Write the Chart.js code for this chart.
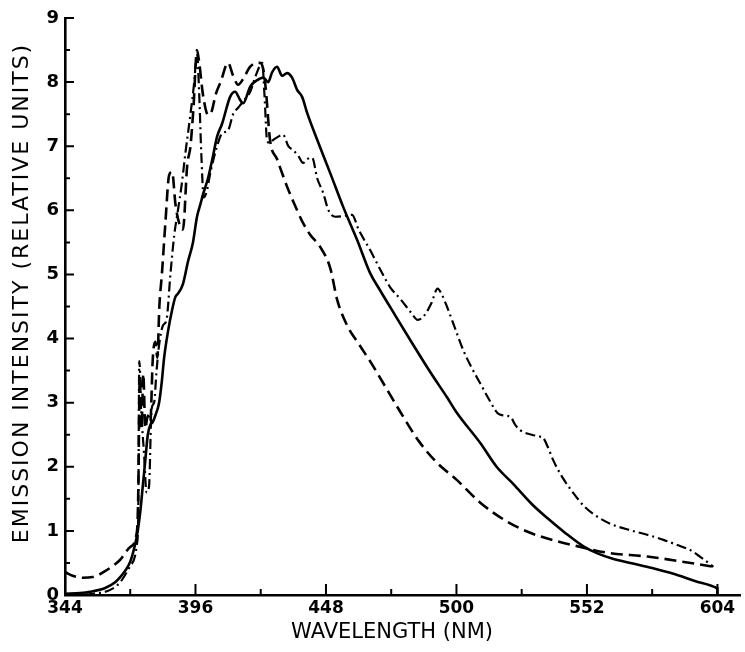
<!DOCTYPE html>
<html>
<head>
<meta charset="utf-8">
<script src="https://cdn.jsdelivr.net/npm/chart.js@4.4.0/dist/chart.umd.min.js"></script>
<style>
  html, body { margin: 0; padding: 0; background: #fff; }
  canvas { display: block; }
</style>
</head>
<body>
<canvas id="spectrum" width="745" height="652"></canvas>
<script>
// wavelength ticks (nm) and intensity ticks
const xTicks = [344, 396, 448, 500, 552, 604];
const xMinorTicks = [370, 422, 474, 526, 578];
const yTicks = [0, 1, 2, 3, 4, 5, 6, 7, 8, 9];
const yMinorTicks = [0.5, 1.5, 2.5, 3.5, 4.5, 5.5, 6.5, 7.5, 8.5];
const xTitle = 'WAVELENGTH (NM)';
const yTitle = 'EMISSION INTENSITY (RELATIVE UNITS)';

// solid curve
const solidNm = [344, 350, 354, 360, 364, 366, 368, 370, 372, 373, 374, 375, 376, 377, 378, 379, 380,
  381.5, 382.5, 383.5, 385, 386.7, 388, 389, 391, 393, 395, 396.6, 398, 399, 401, 403, 404.6, 406.6,
  409.8, 411.8, 413.8, 415, 417.8, 420.6, 423, 425, 426.5, 428.5, 430.5, 432.5, 434.5, 436.5, 438.5,
  440.5, 444.5, 449.7, 454.9, 460.4, 465.6, 469.6, 475, 482.8, 490, 496.3, 500, 509.5, 516, 522.7,
  530, 536.2, 543, 550.6, 556.2, 562, 569.3, 578, 586.5, 595, 603.2, 604, 604];
const solidVal = [0.02, 0.03, 0.05, 0.11, 0.2, 0.28, 0.38, 0.52, 0.8, 1.0, 1.3, 1.7, 2.1, 2.5, 2.65, 2.7, 2.8,
  3.0, 3.3, 3.7, 4.1, 4.45, 4.65, 4.7, 4.85, 5.2, 5.5, 5.9, 6.1, 6.25, 6.5, 6.85, 7.15, 7.35,
  7.77, 7.85, 7.72, 7.67, 7.93, 8.03, 8.07, 8.0, 8.15, 8.24, 8.1, 8.14, 8.07, 7.88, 7.77,
  7.52, 7.1, 6.58, 6.05, 5.54, 5.02, 4.75, 4.4, 3.9, 3.45, 3.08, 2.85, 2.37, 2.0, 1.73,
  1.42, 1.2, 0.98, 0.76, 0.65, 0.57, 0.5, 0.42, 0.33, 0.22, 0.12, 0.1, 0];

// dashed curve
const dashedNm = [344, 347, 351, 355, 360.7, 366, 370, 372.7, 373.2, 373.8, 374.5, 375.2, 376, 377, 378,
  379, 380, 380.8, 381.6, 382.6, 384, 385.5, 386.7, 388, 389.5, 391, 392.7, 394, 395.2, 396.6, 397.5,
  399, 401, 402.5, 404, 406, 409, 411, 413, 415, 417.8, 420.6, 421.8, 423, 424, 425.7, 428.5, 432.5,
  436.5, 438.9, 441.7, 445.7, 449.7, 452.5, 456.5, 461, 466, 472.4, 478.8, 485, 492.3, 500, 509.5,
  520, 529.4, 540, 549.4, 560, 576.1, 590, 602.4];
const dashedVal = [0.36, 0.3, 0.27, 0.28, 0.39, 0.55, 0.75, 1.0, 1.6, 3.4, 2.6, 3.45, 2.6, 2.8, 2.7,
  3.7, 3.95, 3.7, 4.5, 5.0, 5.8, 6.55, 6.6, 6.1, 5.8, 5.7, 6.7, 7.0, 7.6, 8.5, 8.3,
  7.8, 7.49, 7.55, 7.8, 8.0, 8.3, 8.1, 7.96, 8.05, 8.24, 8.3, 8.3, 8.2, 7.9, 7.1, 6.8, 6.37,
  6.0, 5.8, 5.62, 5.43, 5.1, 4.6, 4.2, 3.92, 3.62, 3.2, 2.78, 2.4, 2.06, 1.8, 1.44,
  1.15, 0.97, 0.84, 0.75, 0.66, 0.6, 0.52, 0.44];

// dash-dot curve
const dashDotNm = [344, 355, 362, 366, 370, 372.7, 373.2, 373.6, 374.5, 375.5, 376.5, 377.5, 378.5, 379.5,
  380.5, 381.5, 383, 384.5, 386, 387.5, 389, 390.5, 392, 394, 395.5, 396.6, 397.5, 398.3, 399.3, 400.5,
  402, 404.6, 406.6, 409, 411, 413, 415, 417.8, 420, 422.6, 423.5, 424.5, 425.5, 427, 429, 430.9, 433,
  434.9, 437, 438.9, 440.5, 442.5, 444.5, 446.9, 449, 451.7, 455, 458.4, 461, 465.6, 470, 473.6, 478,
  482, 484.6, 487, 490, 492.5, 494, 496.3, 500, 502.7, 506, 509.5, 513, 516.3, 519, 521.5, 523.5,
  525.4, 530, 533.4, 534.6, 536.5, 538.6, 542, 546.6, 551, 556.2, 562, 569.3, 576, 582.5, 588, 593.2,
  597, 602.4];
const dashDotVal = [0.0, 0.02, 0.08, 0.2, 0.45, 0.8, 1.3, 3.65, 2.8, 2.2, 1.6, 1.7, 2.9, 3.0,
  3.5, 3.9, 4.2, 4.3, 5.0, 5.6, 6.0, 6.4, 6.9, 7.5, 8.0, 8.45, 7.8, 6.9, 6.2, 6.3,
  6.6, 7.0, 7.2, 7.25, 7.5, 7.6, 7.7, 7.85, 8.1, 8.3, 7.8, 7.1, 7.05, 7.1, 7.15, 7.18, 7.0,
  6.94, 6.85, 6.74, 6.8, 6.82, 6.5, 6.27, 6.0, 5.9, 5.91, 5.93, 5.7, 5.38, 5.05, 4.8, 4.6,
  4.4, 4.29, 4.35, 4.55, 4.78, 4.7, 4.49, 4.1, 3.82, 3.55, 3.3, 3.05, 2.84, 2.8, 2.78, 2.65,
  2.57, 2.5, 2.47, 2.45, 2.3, 2.1, 1.85, 1.59, 1.38, 1.22, 1.1, 1.01, 0.94, 0.86, 0.78, 0.70,
  0.6, 0.44];

function pts(xs, ys) {
    return xs.map(function (x, i) { return { x: x, y: ys[i] }; });
}

// inward tick marks and spaced-out axis titles, like the original plot
const axisDecor = {
    id: 'axisDecor',
    afterDraw(chart) {
        const ctx = chart.ctx;
        const xs = chart.scales.x;
        const ys = chart.scales.y;
        const area = chart.chartArea;
        ctx.save();
        ctx.strokeStyle = '#000';
        ctx.lineWidth = 2;
        ctx.beginPath();
        xTicks.forEach(function (v) {
            let p = xs.getPixelForValue(v);
            ctx.moveTo(p, area.bottom);
            ctx.lineTo(p, area.bottom - 11);
        });
        xMinorTicks.forEach(function (v) {
            let p = xs.getPixelForValue(v);
            ctx.moveTo(p, area.bottom);
            ctx.lineTo(p, area.bottom - 6);
        });
        yTicks.forEach(function (v) {
            let p = ys.getPixelForValue(v);
            ctx.moveTo(area.left, p);
            ctx.lineTo(area.left + 9, p);
        });
        yMinorTicks.forEach(function (v) {
            let p = ys.getPixelForValue(v);
            ctx.moveTo(area.left, p);
            ctx.lineTo(area.left + 5, p);
        });
        ctx.stroke();

        ctx.fillStyle = '#000';
        ctx.textAlign = 'center';
        ctx.textBaseline = 'middle';
        ctx.font = '21px "DejaVu Sans"';
        ctx.fillText(xTitle, 392, 633);

        ctx.translate(22, 293);
        ctx.rotate(-Math.PI / 2);
        ctx.font = '22px "DejaVu Sans"';
        ctx.letterSpacing = '2px';
        ctx.fillText(yTitle, 0, 0);
        ctx.restore();
    }
};

const tickFont = { family: 'DejaVu Sans', size: 17, weight: 'bold' };

new Chart(document.getElementById('spectrum').getContext('2d'), {
    type: 'line',
    data: {
        datasets: [{
            label: 'solid',
            data: pts(solidNm, solidVal),
            borderColor: '#000',
            borderWidth: 2.6,
            pointRadius: 0,
            cubicInterpolationMode: 'monotone'
        }, {
            label: 'dashed',
            data: pts(dashedNm, dashedVal),
            borderColor: '#000',
            borderWidth: 2.6,
            borderDash: [12, 6],
            pointRadius: 0,
            cubicInterpolationMode: 'monotone'
        }, {
            label: 'dash-dot',
            data: pts(dashDotNm, dashDotVal),
            borderColor: '#000',
            borderWidth: 2.2,
            borderDash: [10, 4, 2, 4],
            pointRadius: 0,
            cubicInterpolationMode: 'monotone'
        }]
    },
    options: {
        responsive: false,
        animation: false,
        devicePixelRatio: 1,
        layout: { padding: { top: 18, right: 5, left: 0, bottom: 0 } },
        plugins: {
            legend: { display: false },
            tooltip: { enabled: false }
        },
        scales: {
            x: {
                type: 'linear',
                min: 344,
                max: 613,
                afterBuildTicks: function (scale) {
                    scale.ticks = xTicks.map(function (v) { return { value: v }; });
                },
                afterFit: function (scale) { scale.height = 57; },
                grid: { display: true, drawOnChartArea: false, drawTicks: false },
                border: { display: true, color: '#000', width: 2.6 },
                ticks: {
                    color: '#000',
                    font: tickFont,
                    padding: 3,
                    maxRotation: 0,
                    autoSkip: false
                }
            },
            y: {
                min: 0,
                max: 9,
                afterBuildTicks: function (scale) {
                    scale.ticks = yTicks.map(function (v) { return { value: v }; });
                },
                afterFit: function (scale) { scale.width = 65; },
                grid: { display: true, drawOnChartArea: false, drawTicks: false },
                border: { display: true, color: '#000', width: 2.6 },
                ticks: {
                    color: '#000',
                    font: { family: 'DejaVu Sans', size: 18, weight: 'bold' },
                    padding: 6
                }
            }
        }
    },
    plugins: [axisDecor]
});
</script>
</body>
</html>
